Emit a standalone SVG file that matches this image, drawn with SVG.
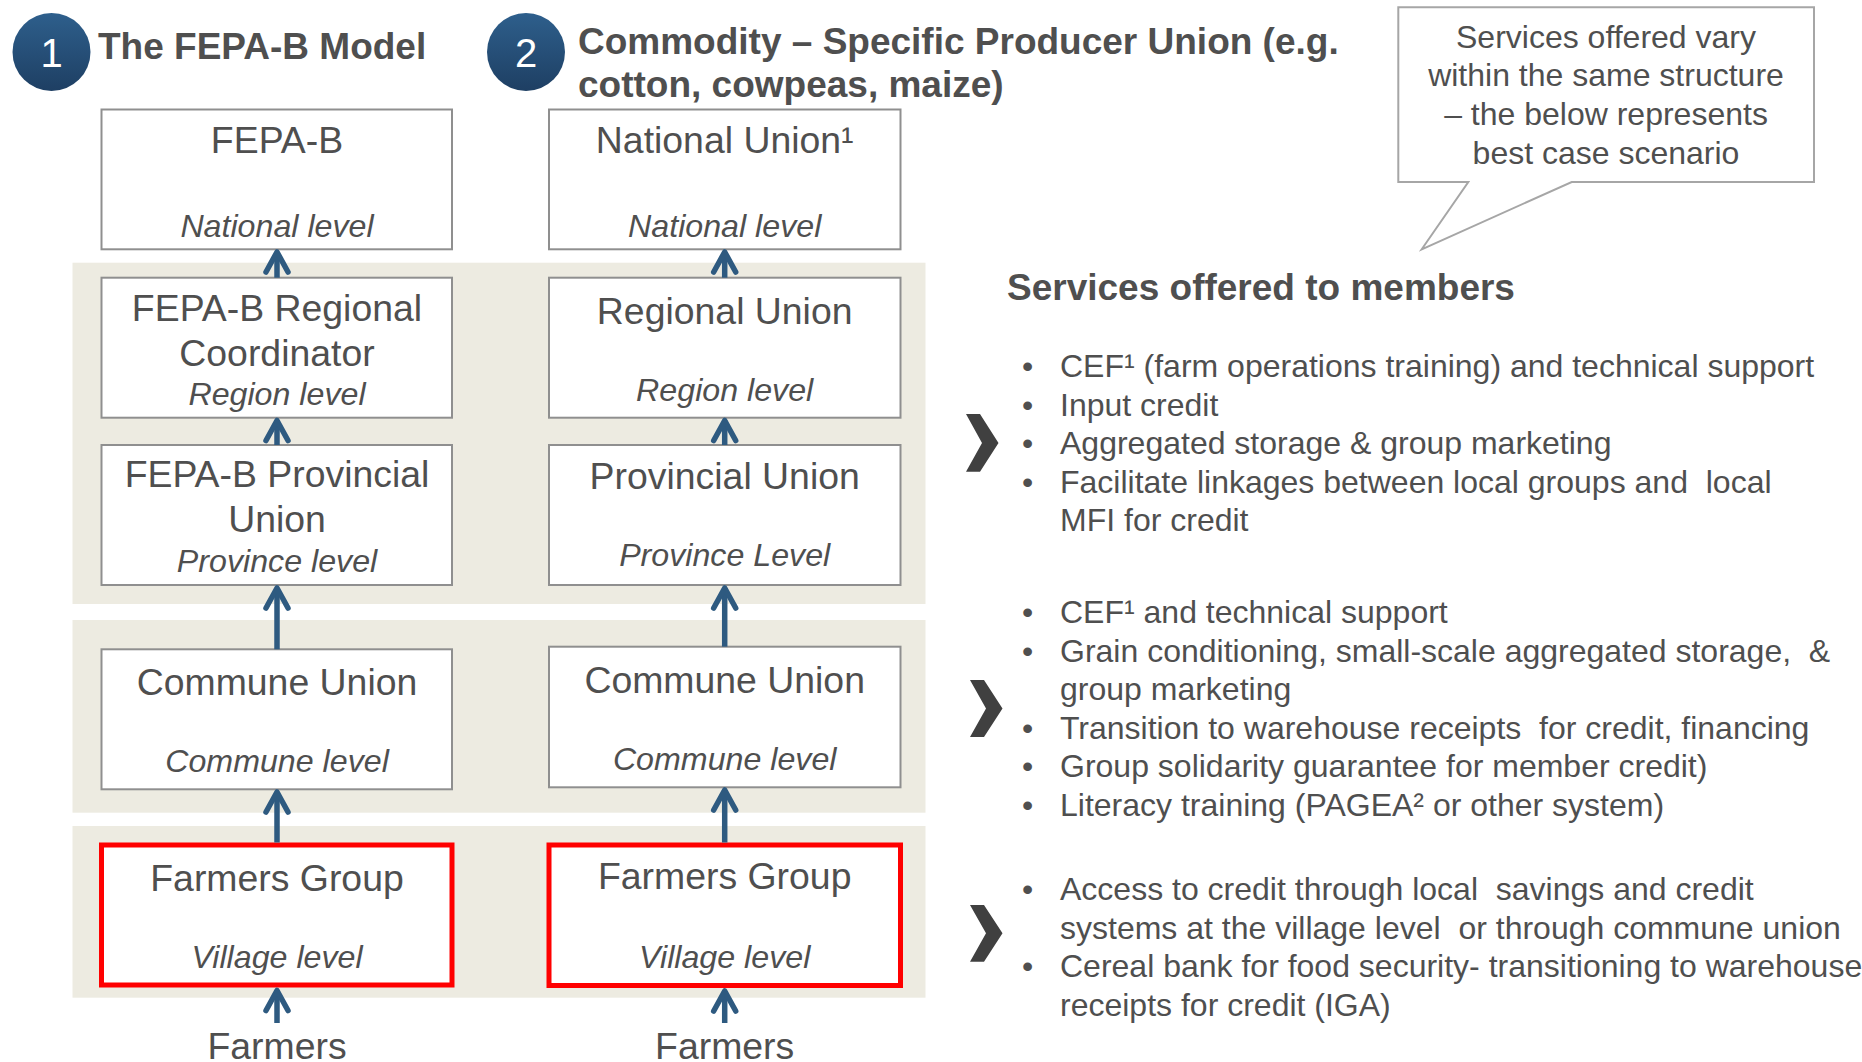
<svg xmlns="http://www.w3.org/2000/svg" width="1862" height="1062" viewBox="0 0 1862 1062">
<style>
text{font-family:"Liberation Sans",Arial,sans-serif;fill:#4f4f4f}
.title{font-size:37px;font-weight:bold}
.num{font-size:40px;fill:#ffffff;text-anchor:middle}
.bt{font-size:37.4px;text-anchor:middle}
.lv{font-size:32.2px;font-style:italic;text-anchor:middle}
.li{font-size:32px;white-space:pre}
.note{font-size:32px;text-anchor:middle}
.band{fill:#edebe1}
.box{fill:#ffffff;stroke:#8f8f8f;stroke-width:2}
.red{fill:#ffffff;stroke:#ff0000;stroke-width:5}
.arr{stroke:#2e5a80;stroke-width:5.5;fill:none;marker-end:url(#ah)}
.chev{fill:#404040}
</style>
<defs>
<linearGradient id="cg" x1="0" y1="0" x2="0" y2="1">
<stop offset="0" stop-color="#2e5f8c"/>
<stop offset="1" stop-color="#1e3f63"/>
</linearGradient>
<marker id="ah" markerUnits="userSpaceOnUse" orient="auto" refX="0" refY="0" markerWidth="30" markerHeight="30" viewBox="-25 -15 30 30" overflow="visible">
<path d="M-20,-11 L0,0 L-20,11" fill="none" stroke="#2e5a80" stroke-width="5.5" stroke-linecap="round" stroke-linejoin="round"/>
</marker>
</defs>
<rect width="1862" height="1062" fill="#ffffff"/>

<g id="bands">
<rect class="band" x="72.5" y="262.7" width="853" height="341.3"/>
<rect class="band" x="72.5" y="620" width="853" height="192.7"/>
<rect class="band" x="72.5" y="826" width="853" height="171.7"/>
</g>

<g id="header1">
<circle cx="51.5" cy="52" r="39" fill="url(#cg)"/>
<text class="num" x="51.5" y="66.5">1</text>
<text class="title" x="98" y="59">The FEPA-B Model</text>
</g>
<g id="header2">
<circle cx="526" cy="52" r="39" fill="url(#cg)"/>
<text class="num" x="526" y="66.5">2</text>
<text class="title" x="578" y="54">Commodity – Specific Producer Union (e.g.</text>
<text class="title" x="578" y="97">cotton, cowpeas, maize)</text>
</g>

<g id="col1-national">
<rect class="box" x="101.5" y="109.5" width="350.5" height="139.8"/>
<text class="bt" x="277" y="153">FEPA-B</text>
<text class="lv" x="277" y="237">National level</text>
</g>
<g id="col1-regional">
<rect class="box" x="101.5" y="277.7" width="350.5" height="140"/>
<text class="bt" x="277" y="320.7">FEPA-B Regional</text>
<text class="bt" x="277" y="366">Coordinator</text>
<text class="lv" x="277" y="405">Region level</text>
</g>
<g id="col1-provincial">
<rect class="box" x="101.5" y="445" width="350.5" height="140"/>
<text class="bt" x="277" y="487.3">FEPA-B Provincial</text>
<text class="bt" x="277" y="531.7">Union</text>
<text class="lv" x="277" y="572">Province level</text>
</g>
<g id="col1-commune">
<rect class="box" x="101.5" y="649.3" width="350.5" height="140"/>
<text class="bt" x="277" y="695">Commune Union</text>
<text class="lv" x="277" y="772">Commune level</text>
</g>
<g id="col1-farmers-group">
<rect class="red" x="101.5" y="845" width="350.5" height="140"/>
<text class="bt" x="277" y="890.5">Farmers Group</text>
<text class="lv" x="277" y="968">Village level</text>
</g>
<g id="col1-farmers">
<text class="bt" x="277" y="1058.5">Farmers</text>
</g>

<g id="col2-national">
<rect class="box" x="549" y="109.5" width="351.5" height="139.8"/>
<text class="bt" x="724.7" y="153">National Union¹</text>
<text class="lv" x="724.7" y="237">National level</text>
</g>
<g id="col2-regional">
<rect class="box" x="549" y="277.7" width="351.5" height="140"/>
<text class="bt" x="724.7" y="324">Regional Union</text>
<text class="lv" x="724.7" y="401">Region level</text>
</g>
<g id="col2-provincial">
<rect class="box" x="549" y="445" width="351.5" height="140"/>
<text class="bt" x="724.7" y="489">Provincial Union</text>
<text class="lv" x="724.7" y="566">Province Level</text>
</g>
<g id="col2-commune">
<rect class="box" x="549" y="646.7" width="351.5" height="140.6"/>
<text class="bt" x="724.7" y="692.5">Commune Union</text>
<text class="lv" x="724.7" y="770">Commune level</text>
</g>
<g id="col2-farmers-group">
<rect class="red" x="549" y="845" width="351.5" height="140.5"/>
<text class="bt" x="724.7" y="889">Farmers Group</text>
<text class="lv" x="724.7" y="968">Village level</text>
</g>
<g id="col2-farmers">
<text class="bt" x="724.7" y="1058.5">Farmers</text>
</g>

<g id="connectors">
<line class="arr" x1="277" y1="277.7" x2="277" y2="252"/>
<line class="arr" x1="277" y1="445" x2="277" y2="420.5"/>
<line class="arr" x1="277" y1="649.3" x2="277" y2="588"/>
<line class="arr" x1="277" y1="842.5" x2="277" y2="792"/>
<line class="arr" x1="277" y1="1023" x2="277" y2="990.5"/>
<line class="arr" x1="724.7" y1="277.7" x2="724.7" y2="252"/>
<line class="arr" x1="724.7" y1="445" x2="724.7" y2="420.5"/>
<line class="arr" x1="724.7" y1="646.7" x2="724.7" y2="588"/>
<line class="arr" x1="724.7" y1="842.5" x2="724.7" y2="790"/>
<line class="arr" x1="724.7" y1="1023" x2="724.7" y2="991"/>
</g>

<g id="callout">
<path d="M1398.3,7.3 H1814 V182 H1571.7 L1421.7,249.3 L1468.3,182 H1398.3 Z" fill="#ffffff" stroke="#a6a6a6" stroke-width="2"/>
<text class="note" x="1606" y="47.5">Services offered vary</text>
<text class="note" x="1606" y="86.3">within the same structure</text>
<text class="note" x="1606" y="125">– the below represents</text>
<text class="note" x="1606" y="164">best case scenario</text>
</g>

<g id="services-heading">
<text class="title" x="1007" y="300">Services offered to members</text>
</g>

<g id="services-upper">
<polygon class="chev" points="966,414 980,414 998.5,443 980,471.7 966,471.7 982,443"/>
<text class="li" x="1022" y="377">•</text>
<text class="li" x="1060" y="377">CEF¹ (farm operations training) and technical support</text>
<text class="li" x="1022" y="415.6">•</text>
<text class="li" x="1060" y="415.6">Input credit</text>
<text class="li" x="1022" y="454.2">•</text>
<text class="li" x="1060" y="454.2">Aggregated storage &amp; group marketing</text>
<text class="li" x="1022" y="492.8">•</text>
<text class="li" x="1060" y="492.8" xml:space="preserve">Facilitate linkages between local groups and  local</text>
<text class="li" x="1060" y="531.4">MFI for credit</text>
</g>

<g id="services-commune">
<polygon class="chev" points="970,680 984,680 1002.5,708.5 984,737 970,737 986,708.5"/>
<text class="li" x="1022" y="623.4">•</text>
<text class="li" x="1060" y="623.4">CEF¹ and technical support</text>
<text class="li" x="1022" y="661.9">•</text>
<text class="li" x="1060" y="661.9" xml:space="preserve">Grain conditioning, small-scale aggregated storage,  &amp;</text>
<text class="li" x="1060" y="700.4">group marketing</text>
<text class="li" x="1022" y="738.9">•</text>
<text class="li" x="1060" y="738.9" xml:space="preserve">Transition to warehouse receipts  for credit, financing</text>
<text class="li" x="1022" y="777.4">•</text>
<text class="li" x="1060" y="777.4">Group solidarity guarantee for member credit)</text>
<text class="li" x="1022" y="815.9">•</text>
<text class="li" x="1060" y="815.9">Literacy training (PAGEA² or other system)</text>
</g>

<g id="services-village">
<polygon class="chev" points="970,905 984,905 1002.5,933.3 984,961.7 970,961.7 986,933.3"/>
<text class="li" x="1022" y="900.2">•</text>
<text class="li" x="1060" y="900.2" xml:space="preserve">Access to credit through local  savings and credit</text>
<text class="li" x="1060" y="938.7" xml:space="preserve">systems at the village level  or through commune union</text>
<text class="li" x="1022" y="977.2">•</text>
<text class="li" x="1060" y="977.2">Cereal bank for food security- transitioning to warehouse</text>
<text class="li" x="1060" y="1015.7">receipts for credit (IGA)</text>
</g>
</svg>
